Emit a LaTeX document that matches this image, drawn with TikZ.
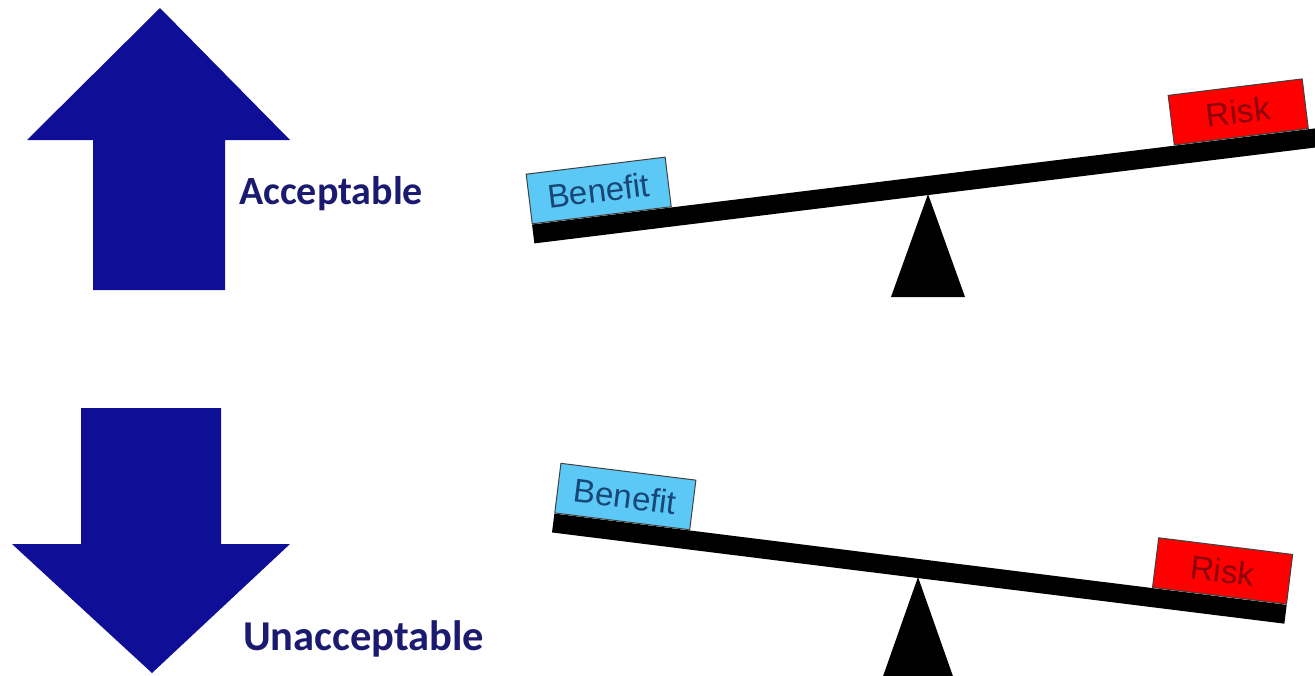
\documentclass[tikz,border=0pt]{standalone}
\usepackage{fontspec}
\setmainfont{Liberation Sans}
\newfontfamily\calibri{Carlito}
\usetikzlibrary{calc}
\definecolor{arrowblue}{RGB}{14,14,150}
\definecolor{verdictblue}{RGB}{26,26,112}
\definecolor{benefitfill}{RGB}{92,200,245}
\definecolor{benefittext}{RGB}{24,70,118}
\definecolor{risktext}{RGB}{140,0,12}
\tikzstyle{bigarrow} = [fill=arrowblue]
\tikzstyle{verdict} = [inner sep=0pt, text=verdictblue,
    font=\calibri\bfseries\fontsize{40}{48}\selectfont]
\tikzstyle{beam} = [rectangle, fill=black, inner sep=0pt, minimum height=19]
\tikzstyle{weight} = [rectangle, draw=black!75, line width=1, inner sep=0pt,
    minimum width=140, minimum height=50, font=\fontsize{33}{38}\selectfont]
\tikzstyle{benefit} = [weight, fill=benefitfill, text=benefittext]
\tikzstyle{risk} = [weight, fill=red, text=risktext, minimum width=135]
\tikzstyle{pivot} = [fill=black]

\begin{document}
\begin{tikzpicture}[x=1pt, y=-1pt]
		\useasboundingbox (0,0) rectangle (1315,675);

		\fill [bigarrow] (160,8) -- (290,140) -- (225,140) -- (225,290) -- (93,290) -- (93,140) -- (27,140) -- cycle;
		\node [verdict, anchor=base west] (accept) at (239,204) {Acceptable};

		\fill [bigarrow] (81,408) -- (221,408) -- (221,544) -- (290,544) -- (152,673) -- (12,544) -- (81,544) -- cycle;
		\node [verdict, anchor=base west, font=\calibri\bfseries\fontsize{42.5}{50}\selectfont] (reject) at (243,650) {Unacceptable};

		\node [beam, rotate=7, minimum width=805, anchor=west] (beamA) at (533,234) {};
		\node [benefit, rotate=7, anchor=south west] (benA) at (beamA.north west) {Benefit};
		\node [risk, rotate=7, anchor=south east] (riskA) at ($(beamA.north west)!0.972!(beamA.north east)$) {Risk};
		\coordinate (pivA) at (928,194);
		\fill [pivot] (pivA) -- ++(-37,103) -- ++(74,0) -- cycle;

		\node [beam, rotate=-7.1, minimum width=738, anchor=west] (beamB) at (553,523) {};
		\node [benefit, rotate=-7.1, minimum width=136, anchor=south west] (benB) at (beamB.north west) {Benefit};
		\node [risk, rotate=-7.1, anchor=south east] (riskB) at (beamB.north east) {Risk};
		\coordinate (pivB) at (918,577);
		\fill [pivot] (pivB) -- ++(-37,105) -- ++(74,0) -- cycle;
	\end{tikzpicture}
\end{document}
